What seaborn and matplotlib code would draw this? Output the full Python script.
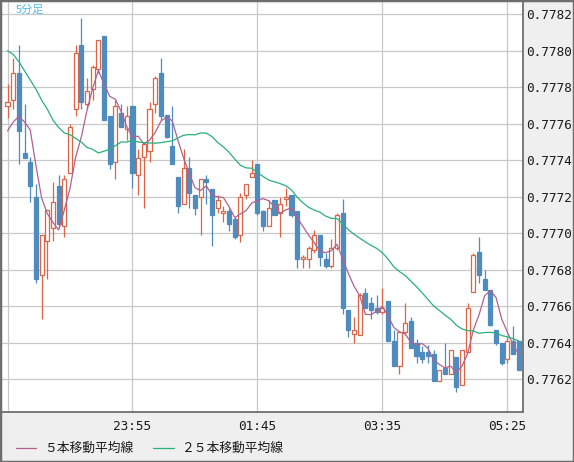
import numpy as np
import pandas as pd
import matplotlib
matplotlib.use("Agg")
import matplotlib.pyplot as plt
from matplotlib.lines import Line2D
from matplotlib.patches import Rectangle
import seaborn as sns

# 5分足 ローソク足 (22:05 から 5分ごと)
opens = [0.77770, 0.77773, 0.77788, 0.77744, 0.77739, 0.77720, 0.77677, 0.77696, 0.77703, 0.77726,
         0.77704, 0.77733, 0.77768, 0.77803, 0.77771, 0.77779, 0.77790, 0.77808, 0.77764, 0.77739,
         0.77766, 0.77757, 0.77770, 0.77732, 0.77742, 0.77745, 0.77771, 0.77788, 0.77765, 0.77748,
         0.77731, 0.77716, 0.77736, 0.77721, 0.77720, 0.77730, 0.77724, 0.77714, 0.77711, 0.77712,
         0.77708, 0.77699, 0.77721, 0.77731, 0.77738, 0.77712, 0.77704, 0.77718, 0.77711, 0.77719,
         0.77721, 0.77712, 0.77686, 0.77686, 0.77691, 0.77699, 0.77686, 0.77682, 0.77692, 0.77711,
         0.77658, 0.77645, 0.77644, 0.77667, 0.77662, 0.77659, 0.77657, 0.77663, 0.77641, 0.77627,
         0.77646, 0.77652, 0.77640, 0.77635, 0.77635, 0.77634, 0.77619, 0.77626, 0.77623, 0.77632,
         0.77617, 0.77635, 0.77668, 0.77690, 0.77675, 0.77669, 0.77647, 0.77640, 0.77631, 0.77641,
         0.77641]
highs = [0.77782, 0.77796, 0.77803, 0.77771, 0.77742, 0.77727, 0.77699, 0.77713, 0.77728, 0.77732,
         0.77732, 0.77760, 0.77803, 0.77818, 0.77785, 0.77792, 0.77806, 0.77808, 0.77764, 0.77773,
         0.77771, 0.77770, 0.77770, 0.77746, 0.77750, 0.77772, 0.77786, 0.77796, 0.77765, 0.77770,
         0.77731, 0.77746, 0.77742, 0.77721, 0.77730, 0.77732, 0.77724, 0.77721, 0.77715, 0.77714,
         0.77709, 0.77722, 0.77727, 0.77740, 0.77738, 0.77713, 0.77718, 0.77718, 0.77720, 0.77725,
         0.77721, 0.77712, 0.77688, 0.77693, 0.77702, 0.77699, 0.77689, 0.77697, 0.77711, 0.77719,
         0.77658, 0.77654, 0.77667, 0.77670, 0.77665, 0.77666, 0.77670, 0.77663, 0.77647, 0.77646,
         0.77662, 0.77654, 0.77642, 0.77638, 0.77639, 0.77636, 0.77625, 0.77640, 0.77636, 0.77632,
         0.77636, 0.77662, 0.77689, 0.77698, 0.77680, 0.77669, 0.77647, 0.77640, 0.77643, 0.77649,
         0.77641]
lows = [0.77763, 0.77768, 0.77738, 0.77741, 0.77717, 0.77673, 0.77653, 0.77675, 0.77696, 0.77703,
        0.77698, 0.77733, 0.77764, 0.77768, 0.77768, 0.77773, 0.77788, 0.77762, 0.77735, 0.77730,
        0.77758, 0.77751, 0.77725, 0.77721, 0.77714, 0.77739, 0.77766, 0.77762, 0.77752, 0.77738,
        0.77711, 0.77716, 0.77714, 0.77710, 0.77699, 0.77716, 0.77693, 0.77711, 0.77706, 0.77701,
        0.77697, 0.77695, 0.77719, 0.77731, 0.77710, 0.77701, 0.77704, 0.77710, 0.77698, 0.77715,
        0.77709, 0.77681, 0.77681, 0.77681, 0.77689, 0.77682, 0.77681, 0.77681, 0.77691, 0.77656,
        0.77643, 0.77640, 0.77644, 0.77659, 0.77653, 0.77656, 0.77656, 0.77641, 0.77627, 0.77623,
        0.77644, 0.77637, 0.77629, 0.77629, 0.77629, 0.77619, 0.77619, 0.77623, 0.77623, 0.77613,
        0.77617, 0.77635, 0.77668, 0.77673, 0.77669, 0.77649, 0.77639, 0.77628, 0.77629, 0.77634,
        0.77625]
closes = [0.77772, 0.77788, 0.77756, 0.77741, 0.77726, 0.77675, 0.77699, 0.77713, 0.77717, 0.77705,
          0.77730, 0.77758, 0.77799, 0.77772, 0.77778, 0.77791, 0.77806, 0.77762, 0.77738, 0.77770,
          0.77758, 0.77764, 0.77733, 0.77741, 0.77749, 0.77768, 0.77785, 0.77764, 0.77753, 0.77738,
          0.77715, 0.77736, 0.77722, 0.77714, 0.77730, 0.77728, 0.77710, 0.77718, 0.77712, 0.77705,
          0.77698, 0.77720, 0.77727, 0.77733, 0.77711, 0.77704, 0.77714, 0.77710, 0.77716, 0.77720,
          0.77710, 0.77686, 0.77687, 0.77692, 0.77699, 0.77687, 0.77682, 0.77692, 0.77710, 0.77659,
          0.77647, 0.77647, 0.77666, 0.77659, 0.77658, 0.77657, 0.77659, 0.77641, 0.77627, 0.77646,
          0.77651, 0.77637, 0.77633, 0.77631, 0.77633, 0.77619, 0.77625, 0.77623, 0.77636, 0.77616,
          0.77636, 0.77659, 0.77688, 0.77677, 0.77669, 0.77650, 0.77640, 0.77629, 0.77641, 0.77634,
          0.77625]

# 表示範囲より前のデータが必要な部分の移動平均 (画面から読み取り)
ma5_head = [0.77756, 0.77761, 0.77764, 0.77761]
ma25_head = [0.77800, 0.77798, 0.77794, 0.77789, 0.77784, 0.77779, 0.77773, 0.77768,
             0.77762, 0.77758, 0.77755, 0.77754, 0.77752, 0.77750, 0.77747, 0.77746,
             0.77744, 0.77745, 0.77746, 0.77748, 0.77750, 0.77750, 0.77751, 0.77750]

start_time = "2020-01-01 22:05"
tick_times = ["22:05", "23:55", "01:45", "03:35", "05:25"]
price_ticks = [0.7762, 0.7764, 0.7766, 0.7768, 0.7770, 0.7772, 0.7774, 0.7776, 0.7778, 0.7780, 0.7782]
legend_labels = ["５本移動平均線", "２５本移動平均線"]
chart_label = "5分足"

RED = "#de6446"
BLUE = "#4e8cc0"
MA5_COLOR = "#b3608e"
MA25_COLOR = "#28b078"
PANEL = "#efefef"
BORDER = "#6e6e6e"

df = pd.DataFrame({"open": opens, "high": highs, "low": lows, "close": closes})
df["idx"] = np.arange(len(df))
df["time"] = pd.date_range(start_time, periods=len(df), freq="5min").strftime("%H:%M")
df["ma5"] = df["close"].rolling(5).mean()
df.loc[:len(ma5_head) - 1, "ma5"] = ma5_head
df["ma25"] = df["close"].rolling(25).mean()
df.loc[:len(ma25_head) - 1, "ma25"] = ma25_head

sns.set_style("white")
plt.rcParams["font.family"] = ["DejaVu Sans Mono", "Noto Sans CJK JP"]

fig = plt.figure(figsize=(5.74, 4.62), dpi=100)
fig.patch.set_facecolor(PANEL)
ax = fig.add_axes([2 / 574, 1 - 412.3 / 462, 521.3 / 574, 410.8 / 462])
ax.set_facecolor("white")

# ローソク足
up = df["close"] >= df["open"]
ax.vlines(df["idx"], df["low"], df["high"], colors=np.where(up, RED, BLUE), lw=0.9, zorder=2)
ax.bar(df["idx"][up], (df["close"] - df["open"])[up], bottom=df["open"][up], width=0.72,
       facecolor="white", edgecolor=RED, lw=0.9, zorder=2.5)
ax.bar(df["idx"][~up], (df["close"] - df["open"])[~up], bottom=df["open"][~up], width=0.72,
       facecolor=BLUE, edgecolor=BLUE, lw=0.9, zorder=2.5)

# 移動平均線
sns.lineplot(data=df, x="idx", y="ma5", ax=ax, color=MA5_COLOR, lw=0.9, zorder=3)
sns.lineplot(data=df, x="idx", y="ma25", ax=ax, color=MA25_COLOR, lw=0.9, zorder=3)

ax.set_xlim(-0.97, 90.8)
ax.set_ylim(0.776019, 0.778270)
ax.set_xlabel("")
ax.set_ylabel("")

tick_idx = [int(df.index[df["time"] == t][0]) for t in tick_times]
ax.set_xticks(tick_idx)
ax.set_xticklabels([t if k else "" for k, t in enumerate(tick_times)])
ax.yaxis.tick_right()
ax.set_yticks(price_ticks)
ax.set_yticklabels([f"{p:.4f}" for p in price_ticks])
ax.tick_params(axis="y", length=0, pad=2.2, labelsize=9.2, labelcolor="#1a1a1a")
ax.tick_params(axis="x", length=0, pad=5.5, labelsize=9.2, labelcolor="#1a1a1a")
ax.grid(True, color="#c8c8c8", lw=0.9)
ax.set_axisbelow(True)
for side in ["left", "top"]:
    ax.spines[side].set_visible(False)
for side in ["right", "bottom"]:
    ax.spines[side].set_color(BORDER)
    ax.spines[side].set_linewidth(1.3)

ax.text(14 / 521.3, 1 - 8.5 / 410.8, chart_label, transform=ax.transAxes, color="#4cb8e8",
        fontsize=8, va="center", ha="left", family=["Noto Sans CJK JP"])

# 凡例
leg_y = 1 - 448 / 462
for (x0, x1, tx), label, color in zip([(16, 36, 44), (153, 174, 181)], legend_labels, [MA5_COLOR, MA25_COLOR]):
    fig.add_artist(Line2D([x0 / 574, x1 / 574], [leg_y, leg_y], color=color, lw=0.9,
                          transform=fig.transFigure))
    fig.text(tx / 574, leg_y, label, fontsize=9.2, va="center", ha="left", color="#1a1a1a",
             family=["Noto Sans CJK JP"])

fig.add_artist(Rectangle((0, 0), 1, 1, transform=fig.transFigure, fill=False,
                         edgecolor=BORDER, lw=2.5))

fig.savefig("out.png", dpi=100, facecolor=fig.get_facecolor())
